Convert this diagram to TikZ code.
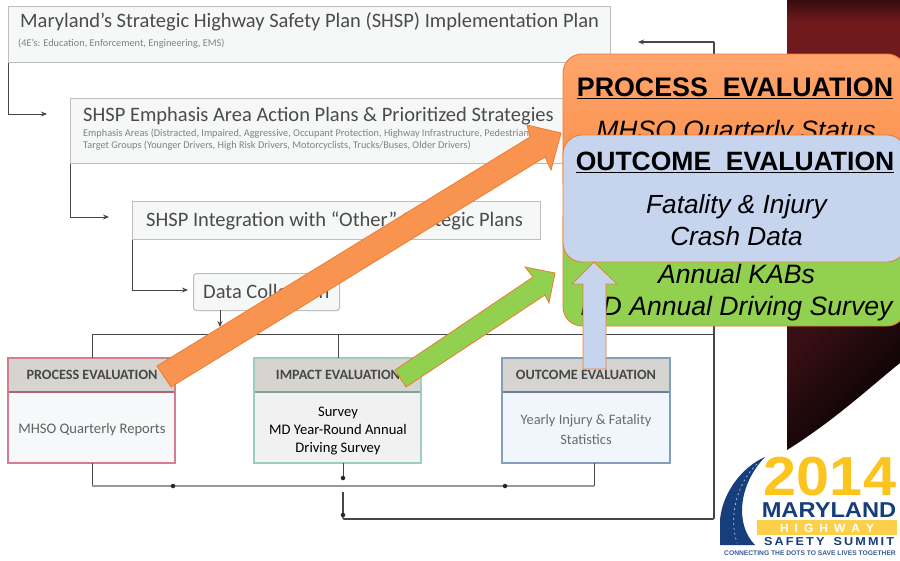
\documentclass[tikz,border=0pt]{standalone}
\usepackage{fontspec}
\setmainfont{Carlito}
\newfontfamily\ovl{Liberation Sans}
\newfontfamily\heros{Liberation Sans}
\usetikzlibrary{arrows.meta,calc}
\definecolor{lineDark}{RGB}{70,70,70}
\definecolor{boxEdge}{RGB}{190,190,190}
\definecolor{boxFill}{RGB}{246,247,247}
\definecolor{txtGray}{RGB}{75,75,75}
\definecolor{smallGray}{RGB}{130,130,130}
\definecolor{ovEdge}{RGB}{237,125,49}
\definecolor{ovTop}{RGB}{255,165,108}
\definecolor{ovBot}{RGB}{250,140,70}
\definecolor{arrOrange}{RGB}{248,148,80}
\definecolor{ovGreen}{RGB}{146,208,80}
\definecolor{ovBlue}{RGB}{198,212,238}
\definecolor{logoBlue}{RGB}{22,62,125}
\definecolor{logoYel}{RGB}{252,196,30}
\definecolor{panA}{RGB}{55,12,14}
\definecolor{panB}{RGB}{112,26,30}
\definecolor{panC}{RGB}{55,15,20}
\definecolor{edgeP}{RGB}{215,125,145}
\definecolor{edgeI}{RGB}{160,205,185}
\definecolor{edgeO}{RGB}{130,160,190}
\definecolor{fillP}{RGB}{246,248,249}
\definecolor{fillI}{RGB}{241,241,241}
\definecolor{fillO}{RGB}{240,246,251}
\definecolor{headFill}{RGB}{214,212,208}
\tikzset{
  x=1pt,y=-1pt,
  planbox/.style={draw=boxEdge,line width=1.1pt,fill=boxFill,anchor=north west,inner sep=0pt},
  plantext/.style={anchor=west,inner sep=0pt,font=\fontsize{20.5}{24}\selectfont,text=txtGray},
  smalltext/.style={anchor=west,inner sep=0pt,font=\fontsize{10.3}{12}\selectfont,text=smallGray},
  link/.style={draw=lineDark,line width=0.9pt},
  linkarrow/.style={link,-{Stealth[length=6pt,width=5pt]}},
  bus/.style={draw=black!40,line width=1.8pt},
  junction/.style={circle,fill=black!85,inner sep=0pt,minimum size=4.5pt},
  head/.style={inner sep=0pt,font=\bfseries\fontsize{14.2}{16}\selectfont,text=black!72},
  panelbox/.style={rounded corners=19pt,draw=ovEdge,line width=0.9pt},
  bigtitle/.style={inner sep=0pt,font=\ovl\bfseries\fontsize{26.8}{30}\selectfont,text=black},
  bigbody/.style={inner sep=0pt,font=\ovl\itshape\fontsize{26.6}{32.5}\selectfont,text=black,align=center},
  fatarrow/.style={draw=ovEdge,line width=0.8pt},
}
\begin{document}
\begin{tikzpicture}
\useasboundingbox (0,0) rectangle (900,560);
\fill[white] (0,0) rectangle (900,560);

% dark panel behind
\shade[top color=panA,bottom color=panB] (787,0) rectangle (900,22);
\fill[panB] (787,22) rectangle (900,60);
\shade[top color=panC,bottom color=black,shading angle=45]
  (787,320) -- (900,320) -- (900,363) .. controls (870,387) and (835,420) .. (787,450) -- cycle;

% plan boxes
\node[planbox,minimum width=602pt,minimum height=56pt] (plan) at (8,6) {};
\node[plantext] (planT) at (20,22) {Maryland’s Strategic Highway Safety Plan (SHSP) Implementation Plan};
\node[smalltext] (planS) at (18,44) {(4E’s: Education, Enforcement, Engineering, EMS)};

\node[planbox,minimum width=495pt,minimum height=65pt] (areas) at (70,98) {};
\node[plantext] (areasT) at (83,116) {SHSP Emphasis Area Action Plans \& Prioritized Strategies};
\node[smalltext] (areasS) at (83,134) {Emphasis Areas (Distracted, Impaired, Aggressive, Occupant Protection, Highway Infrastructure, Pedestrians)};
\node[smalltext] (areasU) at (83,146) {Target Groups (Younger Drivers, High Risk Drivers, Motorcyclists, Trucks/Buses, Older Drivers)};

\node[planbox,minimum width=408pt,minimum height=38pt] (integ) at (132,201) {};
\node[plantext] (integT) at (146,220.5) {SHSP Integration with “Other” Strategic Plans};

\node[planbox,rounded corners=3pt,minimum width=146pt,minimum height=37pt] (data) at (193,273) {};
\node[plantext] (dataT) at (203,291.5) {Data Collection};

% elbows
\coordinate (a1) at (47,114);
\coordinate (a2) at (109,217);
\coordinate (a3) at (188,290);
\coordinate (a4) at (220,327);
\draw[linkarrow] (plan.south west) -- (8,114) -- (a1);
\draw[linkarrow] (areas.south west) -- (70,217) -- (a2);
\draw[linkarrow] (integ.south west) -- (132,290) -- (a3);
\draw[linkarrow] (220,310) -- (a4);

% evaluation boxes
\foreach \nm/\xx/\bw/\ec/\fc in {pe/8/167/edgeP/fillP, ie/254/167/edgeI/fillI, oe/502/168/edgeO/fillO}{
  \node[draw=\ec,line width=1.2pt,fill=\fc,anchor=north west,minimum width=\bw pt,minimum height=105pt,inner sep=0pt] (\nm) at (\xx,358) {};
  \fill[headFill] (\xx,358) rectangle ++(\bw,34);
  \draw[\ec!80!black,line width=1.3pt] (\xx,392) -- ++(\bw,0);
  \draw[\ec,line width=1.2pt] (\xx,358) rectangle ++(\bw,105);
}
\node[head] (peH) at (92,375) {PROCESS EVALUATION};
\node[head] (ieH) at (338,375) {IMPACT EVALUATION};
\node[head] (oeH) at (586,375) {OUTCOME EVALUATION};
\node[inner sep=0pt,font=\fontsize{14.6}{16}\selectfont,text=black!62] (peB) at (92,429.5) {MHSO Quarterly Reports};
\node[inner sep=0pt,font=\fontsize{14.6}{18}\selectfont,text=black,align=center] (ieB) at (338,431) {Survey\\MD Year-Round Annual\\Driving Survey};
\node[inner sep=0pt,font=\fontsize{14.4}{20}\selectfont,text=black!58,align=center] (oeB) at (586,430) {Yearly Injury \& Fatality\\Statistics};

% distribution lines
\coordinate (topL) at (92,334);
\coordinate (topR) at (714,334);
\draw[link] (topL) -- (topR);
\draw[link] (topL) -- (92,358);
\draw[link] (338,334) -- (338,358);
\draw[link] (594,334) -- (594,358);

\coordinate (busL) at (92,486);
\coordinate (busR) at (594,486);
\draw[link] (92,463) -- (busL);
\draw[link] (594,463) -- (busR);
\draw[bus] (busL) -- (busR);
\node[junction] (j1) at (173,486) {};
\node[junction] (j2) at (505,486) {};
\node[junction] (j3) at (343,478) {};
\node[junction] (j4) at (343,515) {};
\draw[link] (343,463) -- (j3);
\draw[draw=lineDark,line width=1.3pt] (343,492) -- (j4);
\coordinate (c1) at (343,519);
\coordinate (c2) at (714,519);
\coordinate (c3) at (714,42);
\coordinate (c4) at (638,42);
\draw[draw=lineDark,line width=1.6pt,rounded corners=1pt] (j4) -- (c1) -- (c2) -- (c3);
\draw[draw=lineDark,line width=1.2pt,-{Stealth[length=6pt,width=5pt]}] (c3) -- (c4);

% overlay panels
\path[panelbox,top color=ovTop,bottom color=ovBot] (563,54) rectangle (906,200);
\node[bigtitle] (pT) at (735,88.5) {\underline{PROCESS\ \ EVALUATION}};
\node[bigbody] (pB) at (736,133) {MHSO Quarterly Status};

\path[panelbox,fill=ovGreen] (563,200) rectangle (906,326);
\node[bigbody] (gB) at (736.5,292.5) {Annual KABs\\MD Annual Driving Survey};

\path[panelbox,fill=ovBlue] (563,135) rectangle (906,262);
\node[bigtitle,font=\ovl\bfseries\fontsize{26.5}{30}\selectfont] (bT) at (735,162.5) {\underline{OUTCOME\ \ EVALUATION}};
\node[bigbody,font=\ovl\itshape\fontsize{26.2}{32}\selectfont] (bB) at (736.5,220) {Fatality \& Injury\\Crash Data};

% big arrows
\path[fatarrow,fill=arrOrange] (157,366) -- (530,137) -- (527,125) -- (561,133) -- (551,170) -- (545,157) -- (171,387) -- cycle;
\path[fatarrow,fill=ovGreen] (395,370) -- (533,277) -- (525,267) -- (555,273) -- (549,303) -- (545,295) -- (406,387) -- cycle;
\path[fatarrow,fill=ovBlue] (583,369) -- (583,284) -- (572,284) -- (594,262) -- (617,284) -- (606,284) -- (606,369) -- cycle;

% logo
\fill[white] (715,451) rectangle (900,560);
\fill[logoBlue] (765,457) .. controls (740,468) and (722,495) .. (720,520) -- (720,545) -- (755,545) .. controls (735,525) and (738,485) .. (765,457) -- cycle;
\draw[white!70!logoBlue,line width=0.7pt,dash pattern=on 2pt off 3pt] (757,464) .. controls (738,482) and (728,515) .. (737,543);
\node[font=\heros\bfseries\fontsize{55}{55}\selectfont,text=logoYel,inner sep=0pt,xscale=1.08] (y2014) at (830,477) {2014};
\node[font=\heros\bfseries\fontsize{21.5}{22}\selectfont,text=logoBlue,inner sep=0pt,xscale=1.1] (mdl) at (829,510.5) {MARYLAND};
\fill[logoYel!80!white] (757,520) rectangle (897,535);
\node[font=\heros\bfseries\fontsize{12}{13}\selectfont,text=white,inner sep=0pt] (hwy) at (827,528) {H\,\,\,I\,\,\,G\,\,\,H\,\,\,W\,\,\,A\,\,\,Y};
\node[font=\heros\bfseries\fontsize{11.5}{12}\selectfont,text=logoBlue,inner sep=0pt,xscale=1.1] (saf) at (829,542) {S\,A\,F\,E\,T\,Y\ \ \,S\,U\,M\,M\,I\,T};
\node[font=\heros\bfseries\fontsize{6.7}{7}\selectfont,text=logoBlue!85,inner sep=0pt] (tag) at (810,553) {CONNECTING THE DOTS TO SAVE LIVES TOGETHER};
\end{tikzpicture}
\end{document}
